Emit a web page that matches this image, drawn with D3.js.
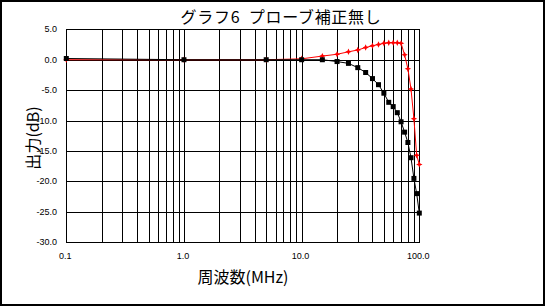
<!DOCTYPE html>
<html>
<head>
<meta charset="utf-8">
<script src="https://cdn.jsdelivr.net/npm/d3@7"></script>
<style>
  body { margin: 0; background: #fff; }
  svg { display: block; }
  .tick-label { font-family: "Liberation Sans", Arial, sans-serif; font-size: 9px; fill: #000; }
  .jp { font-family: "Noto Sans CJK JP", sans-serif; fill: #000; white-space: pre; }
</style>
</head>
<body>
<svg id="chart" width="545" height="306"></svg>
<script>
// frequency points (MHz)
const freqBlack = [0.1, 1, 5, 10, 15, 20, 25, 30, 35, 40, 45, 50, 55, 60, 65, 70, 75, 80, 85, 90, 95, 100];
const outBlack = [0.2, 0, 0, 0, 0, -0.3, -0.6, -1.3, -2.1, -3.1, -4.1, -5.5, -7.0, -7.7, -8.7, -10.2, -11.9, -13.6, -16.1, -19.5, -22.0, -25.2];

const freqRed = [0.1, 1, 5, 10, 15, 20, 25, 30, 35, 40, 45, 50, 55, 60, 65, 70, 75, 80, 85, 90, 95, 100];
const outRed = [0, 0, 0, 0.15, 0.6, 0.9, 1.3, 1.6, 2.0, 2.3, 2.5, 2.7, 2.8, 2.8, 2.8, 2.7, 0.8, -1.5, -4.8, -9.7, -15.7, -17.2];

const yTicks = [5, 0, -5, -10, -15, -20, -25, -30];
const xTickLabels = [
  { v: 0.1, label: '0.1' },
  { v: 1, label: '1.0' },
  { v: 10, label: '10.0' },
  { v: 100, label: '100.0' },
];

const svg = d3.select('#chart');

const x = d3.scaleLog().domain([0.1, 100]).range([66.3, 419.3]);
const y = d3.scaleLinear().domain([-30, 5]).range([242.3, 29.3]);

const crisp = v => Math.round(v) + 0.5;

// outer frame
svg.append('rect')
  .attr('x', 1).attr('y', 1)
  .attr('width', 543).attr('height', 304)
  .attr('fill', 'none')
  .attr('stroke', '#000')
  .attr('stroke-width', 2);

// vertical grid (every minor log tick)
const xGrid = [];
[0.1, 1, 10].forEach(dec => {
  for (let k = 1; k <= 9; k++) xGrid.push(dec * k);
});
xGrid.push(100);

const grid = svg.append('g')
  .attr('stroke', '#000')
  .attr('stroke-width', 1)
  .attr('shape-rendering', 'crispEdges');

grid.selectAll('line.v')
  .data(xGrid)
  .join('line')
  .attr('class', 'v')
  .attr('x1', d => crisp(x(d))).attr('x2', d => crisp(x(d)))
  .attr('y1', y(5)).attr('y2', y(-30));

grid.selectAll('line.h')
  .data(yTicks)
  .join('line')
  .attr('class', 'h')
  .attr('x1', x(0.1)).attr('x2', x(100) + 1)
  .attr('y1', d => crisp(y(d))).attr('y2', d => crisp(y(d)));

// tick labels
svg.append('g')
  .selectAll('text')
  .data(yTicks)
  .join('text')
  .attr('class', 'tick-label')
  .attr('x', 57)
  .attr('y', d => y(d) + 3)
  .attr('text-anchor', 'end')
  .text(d => d.toFixed(1));

svg.append('g')
  .selectAll('text')
  .data(xTickLabels)
  .join('text')
  .attr('class', 'tick-label')
  .attr('x', d => x(d.v) - 1)
  .attr('y', 259)
  .attr('text-anchor', 'middle')
  .text(d => d.label);

// series
const line = d3.line()
  .x(d => x(d[0]))
  .y(d => y(d[1]));

const redData = d3.zip(freqRed, outRed);
const blackData = d3.zip(freqBlack, outBlack);

svg.append('path')
  .datum(redData)
  .attr('d', line)
  .attr('fill', 'none')
  .attr('stroke', '#ff0000')
  .attr('stroke-width', 1);

svg.append('g')
  .selectAll('path')
  .data(redData)
  .join('path')
  .attr('d', 'M0,-3.2L1,-1L3.2,0L1,1L0,3.2L-1,1L-3.2,0L-1,-1Z')
  .attr('transform', d => `translate(${x(d[0])},${y(d[1])})`)
  .attr('fill', '#ff0000');

svg.append('path')
  .datum(blackData)
  .attr('d', line)
  .attr('fill', 'none')
  .attr('stroke', '#000')
  .attr('stroke-width', 1);

svg.append('g')
  .selectAll('rect')
  .data(blackData)
  .join('rect')
  .attr('x', d => x(d[0]) - 2.5)
  .attr('y', d => y(d[1]) - 2.5)
  .attr('width', 5)
  .attr('height', 5)
  .attr('fill', '#000');

// titles
svg.append('text')
  .attr('class', 'jp')
  .attr('x', 281)
  .attr('y', 23)
  .attr('text-anchor', 'middle')
  .attr('font-size', 16)
  .attr('letter-spacing', 0.7)
  .text('グラフ6  プローブ補正無し');

svg.append('text')
  .attr('class', 'jp')
  .attr('x', 243)
  .attr('y', 283)
  .attr('text-anchor', 'middle')
  .attr('font-size', 16)
  .text('周波数(MHz)');

svg.append('text')
  .attr('class', 'jp')
  .attr('transform', 'translate(39,138) rotate(-90)')
  .attr('text-anchor', 'middle')
  .attr('font-size', 16)
  .text('出力(dB)');
</script>
</body>
</html>
